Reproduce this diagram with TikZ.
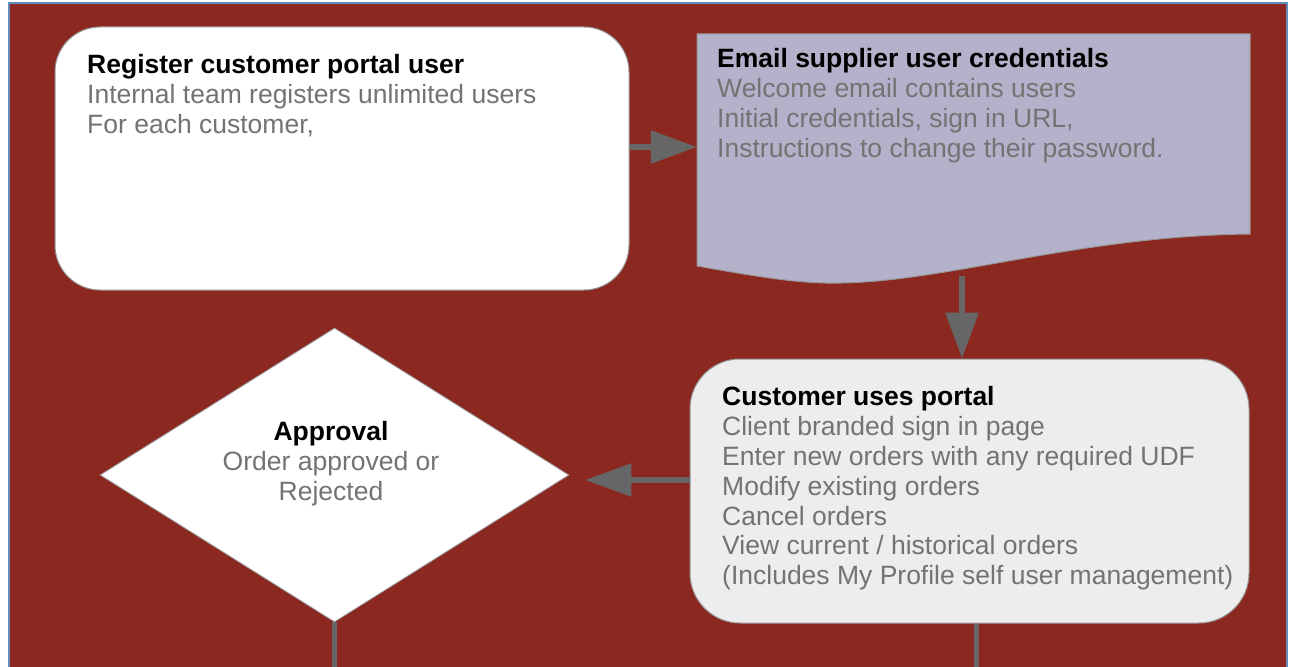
\documentclass[tikz,border=0pt]{standalone}
\usepackage{fontspec}
\setmainfont{Liberation Sans}
\usetikzlibrary{arrows.meta,shapes.geometric}
\definecolor{bgred}{RGB}{139,40,32}
\definecolor{framebl}{RGB}{100,140,190}
\definecolor{lav}{RGB}{180,177,202}
\definecolor{boxgray}{RGB}{237,237,237}
\definecolor{edgegray}{RGB}{150,150,150}
\definecolor{arrowgray}{RGB}{102,102,102}
\definecolor{txtgray}{RGB}{115,115,115}
\tikzset{
  box/.style={draw=edgegray, line width=1pt, rounded corners=45pt, inner sep=0pt},
  txt/.style={anchor=north west, inner sep=0pt, align=left, text=txtgray,
    font=\fontsize{26.5}{29.8}\selectfont},
  flow/.style={draw=arrowgray, line width=6pt, -{Triangle[length=46pt,width=32pt]}},
  flowline/.style={draw=arrowgray, line width=5pt},
}
\newcommand{\ttl}[1]{\textcolor{black}{\bfseries #1}}
\begin{document}
\begin{tikzpicture}[x=1pt,y=-1pt]
    \useasboundingbox (0,0) rectangle (1289,666);
    \fill[white] (0,0) rectangle (1289,666);
    \draw[framebl, line width=1.5pt, fill=bgred] (9,3) rectangle (1287,670);
    % boxes
    \node[box, fill=white, minimum width=574pt, minimum height=263pt] (reg) at (342,158.5) {};
    \node[inner sep=0pt, minimum width=553pt, minimum height=249pt] (mail) at (973.5,158.5) {};
    \draw[edgegray, line width=1pt, fill=lav] (697,266) -- (697,34) -- (1250,34) -- (1250,234)
      .. controls (1080,236) and (950,281) .. (841,283)
      .. controls (800,284) and (760,277) .. (697,266) -- cycle;
    \node[box, fill=boxgray, rounded corners=50pt, minimum width=559pt, minimum height=264pt] (use) at (969.5,491) {};
    \node[diamond, draw=edgegray, line width=0.8pt, fill=white, inner sep=0pt,
      minimum width=469pt, minimum height=294pt] (appr) at (334.5,475) {};
    % texts
    \node[txt] (regtxt) at (87,54) {\ttl{Register customer portal user}\\
      Internal team registers unlimited users\\For each customer,};
    \node[txt] (mailtxt) at (717,48.5) {\ttl{Email supplier user credentials}\\
      Welcome email contains users\\Initial credentials, sign in URL,\\
      Instructions to change their password.};
    \node[txt] (usetxt) at (722,386.5) {\ttl{Customer uses portal}\\
      Client branded sign in page\\Enter new orders with any required UDF\\
      Modify existing orders\\Cancel orders\\View current / historical orders\\
      (Includes My Profile self user management)};
    \node[txt, anchor=north, align=center] (apprtxt) at (331,421) {\ttl{Approval}\\
      Order approved or\\Rejected};
    % connectors
    \coordinate (mailout) at (962,276);
    \coordinate (apprend) at (334.5,670);
    \coordinate (useend) at (976,670);
    \draw[flow] (reg.east |- 0,147) -- (mail.west |- 0,147);
    \draw[flow] (mailout) -- (use.north -| mailout);
    \draw[flow] (use.west |- 0,480) -- ([xshift=16pt]appr.east |- 0,480);
    \draw[flowline] (appr.south) -- (apprend);
    \draw[flowline] (use.south -| useend) -- (useend);
  \end{tikzpicture}
\end{document}
